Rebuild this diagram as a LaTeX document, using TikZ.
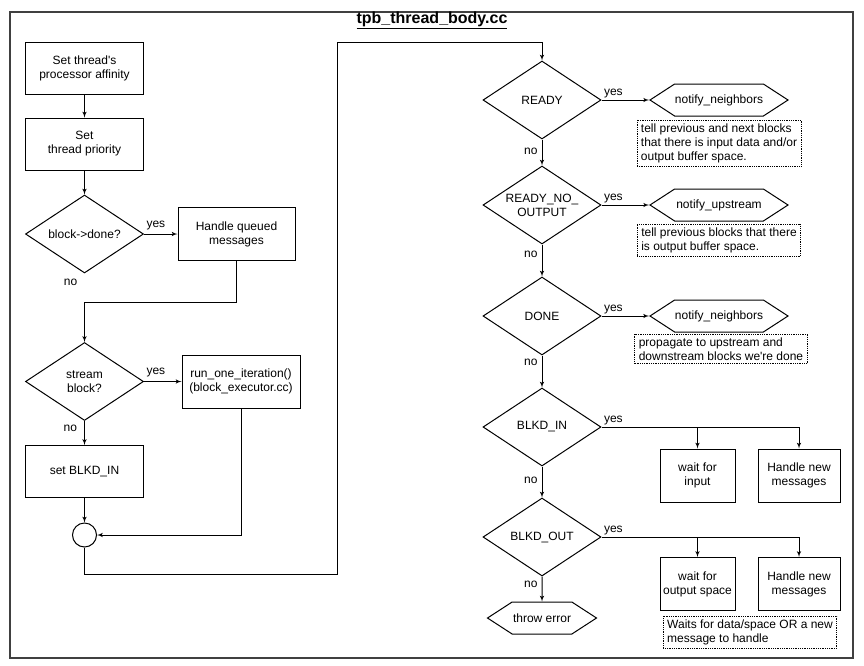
\documentclass[tikz,border=0pt]{standalone}
\usepackage{fontspec}
\setmainfont{Liberation Sans}
\usetikzlibrary{positioning,shapes,arrows}
\tikzstyle{process} = [draw, rectangle, line width=1pt, minimum width=118pt, minimum height=52pt, text centered, align=center, inner sep=2pt]
\tikzstyle{decision} = [draw, diamond, line width=1pt, aspect=1.5, minimum width=118pt, minimum height=78pt, inner sep=0pt, align=center]
\tikzstyle{action} = [draw, signal, signal to=west and east, signal pointer angle=66, line width=1pt, minimum width=138pt, minimum height=32pt, inner xsep=0pt, inner ysep=2pt]
\tikzstyle{note} = [draw, densely dotted, rectangle, line width=0.8pt, align=left, inner xsep=4pt, inner ysep=3.5pt]
\tikzstyle{merge} = [draw, circle, line width=1pt, minimum size=24pt, inner sep=0pt]
\tikzstyle{answer} = [inner sep=2pt]
\tikzstyle{line} = [draw, line width=1pt, -latex']
\tikzstyle{frame} = [draw=black!75, line width=2pt]
\tikzstyle{title} = [font=\fontsize{16}{18}\selectfont\bfseries, inner sep=0pt]

\begin{document}
\begin{tikzpicture}[x=1pt, y=-1pt, font=\fontsize{12}{14}\selectfont]
    \useasboundingbox (0,0) rectangle (864,665);

    % Frame and title
    \draw [frame] (10,12) rectangle (853,658);
    \node [title, anchor=base] (title) at (432,23.5) {\underline{tpb\_thread\_body.cc}};

    % Place nodes: thread setup
    \node [process] (affinity) at (84.5,68) {Set thread\textquotesingle s\\processor affinity};
    \node [process, below of=affinity, node distance=76pt] (priority) {Set\\thread priority};
    \node [decision, below of=priority, node distance=90pt] (done) {block->done?};
    \node [process, right of=done, node distance=152pt, minimum width=117pt, minimum height=53pt] (queued) {Handle queued\\messages};
    \node [answer, anchor=north east] (done-no) at ([xshift=-5pt,yshift=-3pt]done.south) {no};
    \node [decision, below of=done, node distance=147.5pt] (stream) {stream\\block?};
    \node [process, right of=stream, node distance=156.5pt, minimum height=53pt] (run-iter) {run\_one\_iteration()\\(block\_executor.cc)};
    \node [process, below of=stream, node distance=90pt] (set-blkd) {set BLKD\_IN};
    \node [merge, below of=set-blkd, node distance=63.5pt] (merge) {};
    \coordinate (loop-bottom) at (337,574);
    \coordinate (loop-top) at (337,42);

    % Place nodes: state checks
    \node [decision] (ready) at (542,100) {READY};
    \node [decision, below of=ready, node distance=105pt] (ready-no) {READY\_NO\_\\OUTPUT};
    \node [decision, below of=ready-no, node distance=111pt] (done-st) {DONE};
    \node [decision, below of=done-st, node distance=111pt] (blkd-in) {BLKD\_IN};
    \node [decision, below of=blkd-in, node distance=110pt] (blkd-out) {BLKD\_OUT};
    \node [action, below of=blkd-out, node distance=81pt, minimum width=109pt] (error) {throw error};

    % Place nodes: actions and notes
    \node [action, right of=ready, node distance=177pt] (notify-ready) {notify\_neighbors};
    \node [note, below=3pt of notify-ready] (note-ready) {tell previous and next blocks\\that there is input data and/or\\output buffer space.};
    \node [action, right of=ready-no, node distance=177pt] (notify-up) {notify\_upstream};
    \node [note, below=2pt of notify-up] (note-up) {tell previous blocks that there\\is output buffer space.};
    \node [action, right of=done-st, node distance=177pt] (notify-done) {notify\_neighbors};
    \node [note, below=1pt of notify-done, xshift=2pt] (note-done) {propagate to upstream and\\downstream blocks we\textquotesingle re done};
    \node [process, minimum width=75pt, minimum height=53pt] (wait-in) at (697.5,475.5) {wait for\\input};
    \node [process, right of=wait-in, node distance=101.5pt, minimum width=82pt, minimum height=53pt] (handle-in) {Handle new\\messages};
    \node [process, below of=wait-in, node distance=108.5pt, minimum width=75pt, minimum height=53pt] (wait-out) {wait for\\output space};
    \node [process, right of=wait-out, node distance=101.5pt, minimum width=82pt, minimum height=53pt] (handle-out) {Handle new\\messages};
    \node [note] (note-wait) at (750,632) {Waits for data/space OR a new\\message to handle};

    % Draw edges
    \path [line] (affinity) -- (priority);
    \path [line] (priority) -- (done);
    \path [line] (done) -- node [answer, pos=0, anchor=south west, yshift=2pt] {yes} (queued);
    \path [line] (queued.south) -- ++(0,41) -| (stream.north);
    \path [line] (stream) -- node [answer, pos=0, anchor=south west, yshift=2pt] {yes} (run-iter);
    \path [line] (stream) -- node [answer, pos=0.3, left=5pt] {no} (set-blkd);
    \path [line] (set-blkd) -- (merge);
    \path [line] (run-iter.south) |- (merge.east);
    \path [line] (merge.south) |- (loop-bottom) -- (loop-top) -| (ready.north);
    \path [line] (ready) -- node [answer, pos=0, anchor=south west] {yes} (notify-ready);
    \path [line] (ready) -- node [answer, pos=0.45, left=2pt] {no} (ready-no);
    \path [line] (ready-no) -- node [answer, pos=0, anchor=south west] {yes} (notify-up);
    \path [line] (ready-no) -- node [answer, pos=0.3, left=2pt] {no} (done-st);
    \path [line] (done-st) -- node [answer, pos=0, anchor=south west] {yes} (notify-done);
    \path [line] (done-st) -- node [answer, pos=0.2, left=2pt] {no} (blkd-in);
    \path [line] (blkd-in.east) -| node [answer, pos=0, anchor=south west] {yes} (handle-in.north);
    \path [line] (wait-in.north |- blkd-in.east) -- (wait-in.north);
    \path [line] (blkd-in) -- node [answer, pos=0.45, left=2pt] {no} (blkd-out);
    \path [line] (blkd-out.east) -| node [answer, pos=0, anchor=south west] {yes} (handle-out.north);
    \path [line] (wait-out.north |- blkd-out.east) -- (wait-out.north);
    \path [line] (blkd-out) -- node [answer, pos=0.3, left=2pt] {no} (error);
\end{tikzpicture}
\end{document}
